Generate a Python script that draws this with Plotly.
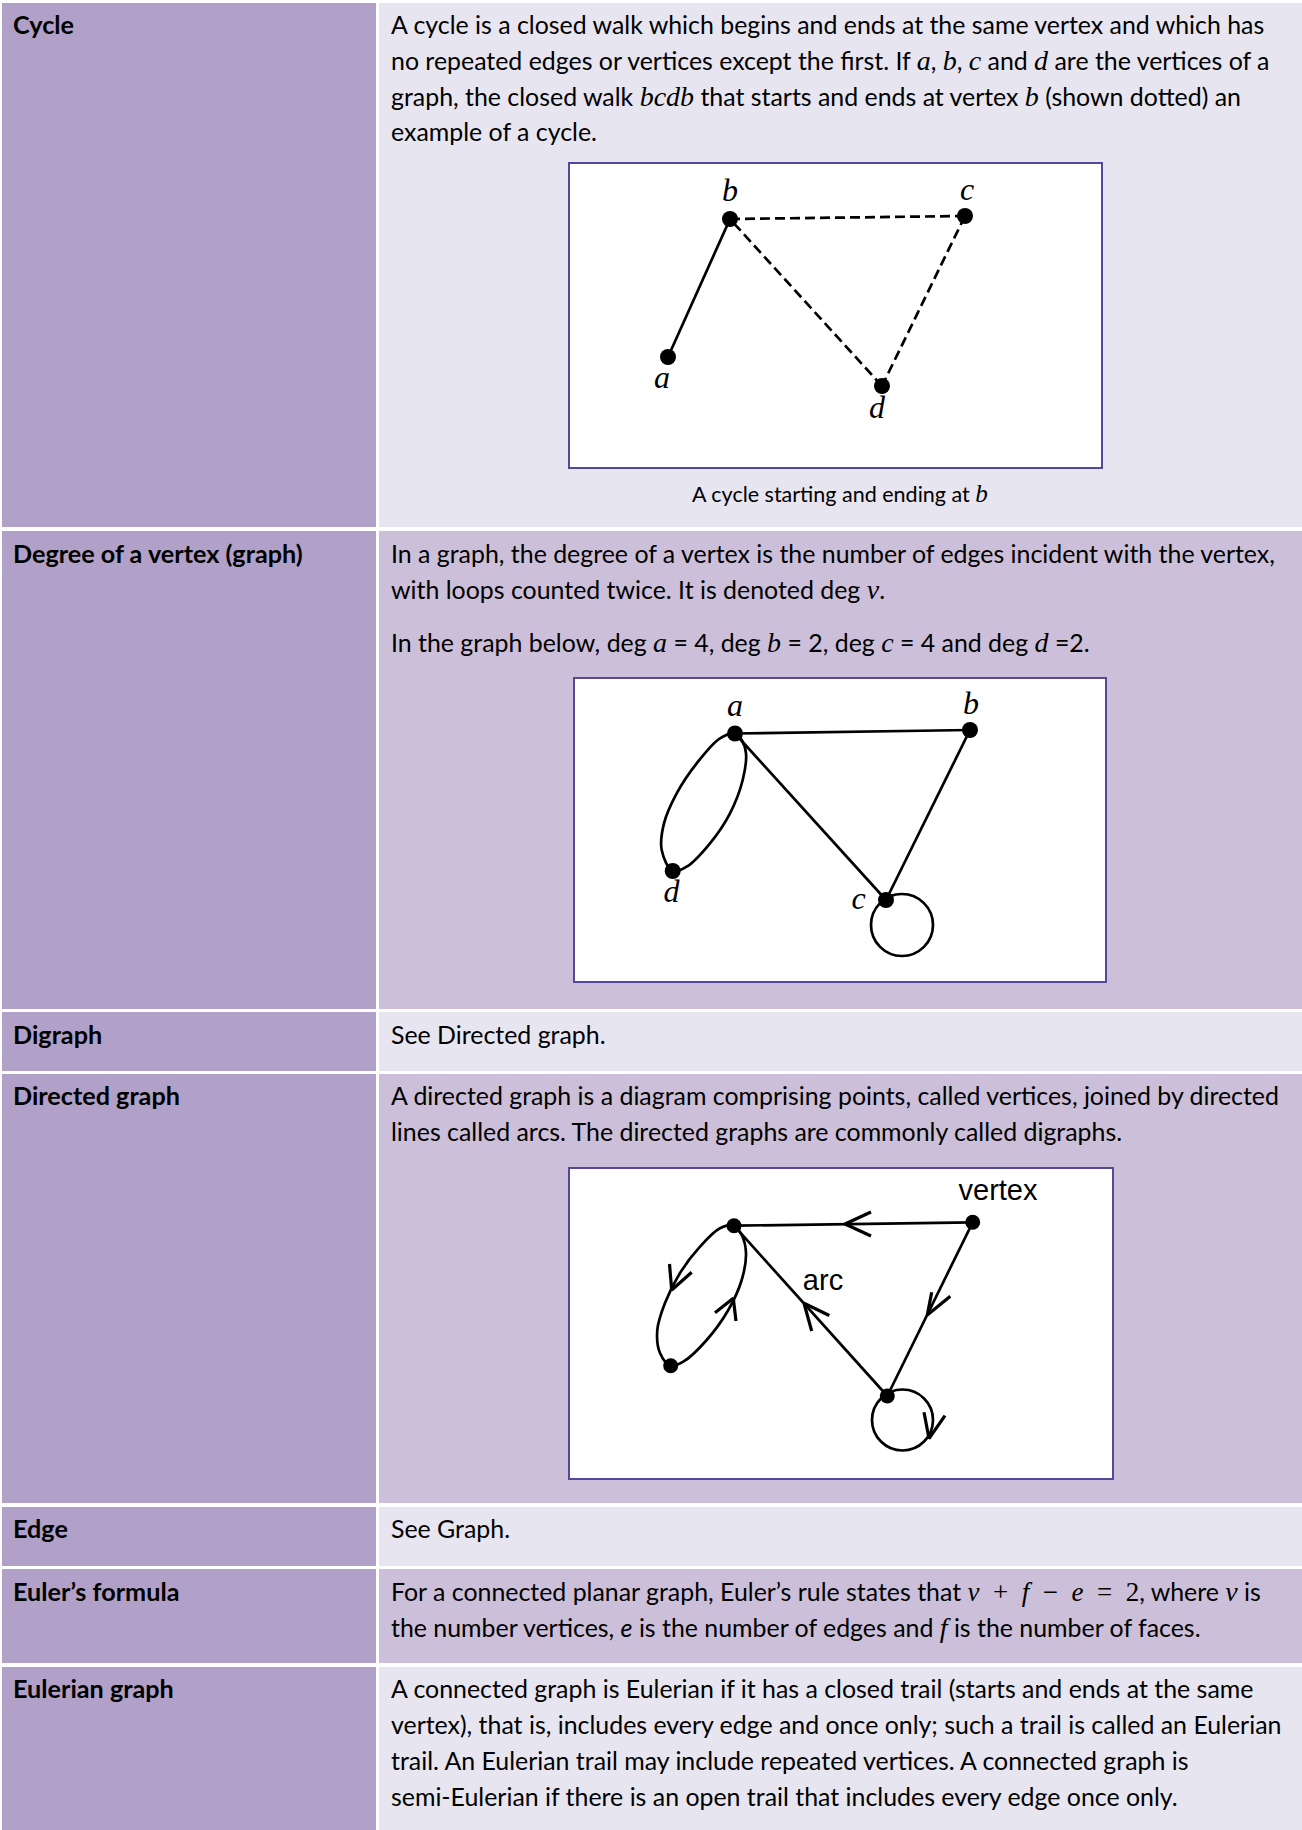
import plotly.graph_objects as go

# ---------------- table content ----------------
terms = ["Cycle", "Degree of a vertex (graph)", "Digraph", "Directed graph",
         "Edge", "Euler’s formula", "Eulerian graph"]


def m(s, size=28):
    # maths italic (stand-in for Cambria Math)
    return f'<span style="font-family:Liberation Serif;font-size:{size}px"><i>{s}</i></span>'


def mexpr(s, size=27):
    return f'<span style="font-family:Liberation Serif;font-size:{size}px">{s}</span>'


euler_expr = mexpr("<i>v</i>\u2002+\u2002<i>f</i>\u2002−\u2002<i>e</i>\u2002=\u20022")

definitions = [
    ["A cycle is a closed walk which begins and ends at the same vertex and which has",
     f"no repeated edges or vertices except the first. If {m('a')}, {m('b')}, {m('c')} and {m('d')} are the vertices of a",
     f"graph, the closed walk {m('bcdb')} that starts and ends at vertex {m('b')} (shown dotted) an",
     "example of a cycle."],
    ["In a graph, the degree of a vertex is the number of edges incident with the vertex,",
     f"with loops counted twice. It is denoted deg {m('v')}.",
     f"In the graph below, deg {m('a')} = 4, deg {m('b')} = 2, deg {m('c')} = 4 and deg {m('d')} =2."],
    ["See Directed graph."],
    ["A directed graph is a diagram comprising points, called vertices, joined by directed",
     "lines called arcs. The directed graphs are commonly called digraphs."],
    ["See Graph."],
    [f"For a connected planar graph, Euler’s rule states that {euler_expr}, where {m('v')} is",
     f"the number vertices, <i>e</i> is the number of edges and {m('f')} is the number of faces."],
    ["A connected graph is Eulerian if it has a closed trail (starts and ends at the same",
     "vertex), that is, includes every edge and once only; such a trail is called an Eulerian",
     "trail. An Eulerian trail may include repeated vertices. A connected graph is",
     "semi-Eulerian if there is an open trail that includes every edge once only."],
]
cycle_caption = f"A cycle starting and ending at {m('b', 25)}"

# ---------------- diagram 1: cycle ----------------
cyc_names = ["a", "b", "c", "d"]
cyc_x = [99, 161, 396, 313]
cyc_y = [194, 56, 53, 223]
cyc_lab_x = [93, 161, 398, 308]
cyc_lab_y = [217, 30, 29, 247]
cyc_solid = [(0, 1)]
cyc_dashed = [(1, 2), (2, 3), (3, 1)]

# ---------------- diagram 2: degree ----------------
deg_names = ["a", "b", "c", "d"]
deg_x = [161, 396, 312, 98.7]
deg_y = [55.5, 52, 222, 193]
deg_lab_x = [161, 397, 284.5, 97.5]
deg_lab_y = [30, 28, 223, 216]
deg_edges = [(0, 1), (0, 2), (1, 2)]
deg_loop = [328, 247, 31]
deg_oval_x = [161, 146, 122.7, 102.7, 90, 87.7, 98.7, 112.7, 136, 156, 168.7, 172, 167.7, 161]
deg_oval_y = [55.5, 60.3, 85.3, 115.3, 145.3, 172, 193, 188.7, 165.3, 135.3, 102, 75.3, 62, 55.5]

# ---------------- diagram 3: directed graph ----------------
dig_x = [165, 403.7, 318.3, 101.7]
dig_y = [57.7, 54.3, 228, 197.7]
dig_edges = [(1, 0), (1, 2), (2, 0)]
dig_loop = [333.5, 252, 30.5]
dig_oval_x = [165, 151, 131, 111, 96, 88.3, 91, 101.7, 114.3, 137.7, 159.3, 172.7, 177, 172.7, 165]
dig_oval_y = [57.7, 60.3, 78.7, 105, 135, 162, 185, 197.7, 193.7, 172, 142, 112, 85, 67, 57.7]
chev_x = [[302, 276, 302], [362.7, 358.3, 381.3], [260.3, 235, 242.7],
          [100.5, 102.7, 122.7], [146, 164.3, 167], [355, 360, 376]]
chev_y = [[44, 56, 68], [124.3, 147, 128.3], [147.5, 135.3, 163],
          [96, 122, 104.3], [144.7, 130.3, 153], [244.3, 270.5, 247.7]]
dig_words = ["vertex", "arc"]
dig_word_x = [429, 254]
dig_word_y = [25, 115]

# ---------------- layout constants ----------------
W, H = 1302, 1830
row_top = [3, 531, 1012, 1074, 1507, 1569, 1667]
row_bot = [527, 1009, 1071, 1503, 1566, 1663, 1830]
line_y = [[24, 60, 96, 131], [553, 589, 642], [1034], [1095, 1131],
          [1528], [1591, 1627], [1688, 1724, 1760, 1796]]
boxes = [(569, 163, 1102, 468), (574, 678, 1106, 982), (569, 1168, 1113, 1479)]

LEFT = "#B1A0C7"
DARK = "#CCBFD9"
LIGHT = "#E7E5F0"
BORDER = "#54479C"
FONT = "Lato"
FS = 24.9

fig = go.Figure()
shapes = []
annotations = []

for r in range(len(terms)):
    shapes.append(dict(type="rect", xref="x", yref="y", x0=2, x1=376,
                       y0=row_top[r], y1=row_bot[r], fillcolor=LEFT,
                       line=dict(width=0), layer="below"))
    shapes.append(dict(type="rect", xref="x", yref="y", x0=379, x1=W,
                       y0=row_top[r], y1=row_bot[r],
                       fillcolor=DARK if r % 2 else LIGHT,
                       line=dict(width=0), layer="below"))
    annotations.append(dict(xref="x", yref="y", x=11, y=line_y[r][0],
                            text=f"<b>{terms[r]}</b>", showarrow=False,
                            xanchor="left", yanchor="middle",
                            font=dict(family=FONT, size=FS + 0.3, color="black")))
    for txt, yy in zip(definitions[r], line_y[r]):
        annotations.append(dict(xref="x", yref="y", x=389, y=yy, text=txt,
                                showarrow=False, xanchor="left", yanchor="middle",
                                font=dict(family=FONT, size=FS, color="black")))

annotations.append(dict(xref="x", yref="y", x=840, y=493, text=cycle_caption,
                        showarrow=False, xanchor="center", yanchor="middle",
                        font=dict(family=FONT, size=21.5, color="black")))

for (x0, y0, x1, y1) in boxes:
    shapes.append(dict(type="rect", xref="x", yref="y", x0=x0, x1=x1, y0=y0, y1=y1,
                       fillcolor="white", line=dict(color=BORDER, width=2),
                       layer="below"))

# main (page) axes
fig.add_trace(go.Scatter(x=[0], y=[0], mode="markers", marker=dict(opacity=0),
                         hoverinfo="skip", showlegend=False))

layout = dict(
    width=W, height=H, margin=dict(l=0, r=0, t=0, b=0),
    paper_bgcolor="white", plot_bgcolor="rgba(0,0,0,0)", showlegend=False,
    xaxis=dict(range=[0, W], domain=[0, 1], visible=False, fixedrange=True),
    yaxis=dict(range=[H, 0], domain=[0, 1], visible=False, fixedrange=True),
)
for i, (x0, y0, x1, y1) in enumerate(boxes):
    k = i + 2
    layout[f"xaxis{k}"] = dict(domain=[x0 / W, x1 / W], range=[0, x1 - x0],
                               visible=False, anchor=f"y{k}", fixedrange=True)
    layout[f"yaxis{k}"] = dict(domain=[1 - y1 / H, 1 - y0 / H], range=[y1 - y0, 0],
                               visible=False, anchor=f"x{k}", fixedrange=True)

LW = 2.7
serif = dict(family="Liberation Serif", size=32, color="black")


def seg(xs, ys, pairs, k, dash="solid"):
    for p, q in pairs:
        fig.add_trace(go.Scatter(x=[xs[p], xs[q]], y=[ys[p], ys[q]], mode="lines",
                                 line=dict(color="black", width=LW, dash=dash),
                                 xaxis=f"x{k}", yaxis=f"y{k}", hoverinfo="skip",
                                 showlegend=False))


def nodes(xs, ys, k, size=16):
    fig.add_trace(go.Scatter(x=xs, y=ys, mode="markers",
                             marker=dict(color="black", size=size),
                             xaxis=f"x{k}", yaxis=f"y{k}", hoverinfo="skip",
                             showlegend=False))


def labels(xs, ys, names, k, font):
    fig.add_trace(go.Scatter(x=xs, y=ys, mode="text",
                             text=[f"<i>{n}</i>" for n in names],
                             textfont=font, textposition="middle center",
                             xaxis=f"x{k}", yaxis=f"y{k}", hoverinfo="skip",
                             showlegend=False))


def oval(xs, ys, k):
    fig.add_trace(go.Scatter(x=xs, y=ys, mode="lines",
                             line=dict(color="black", width=LW, shape="spline",
                                       smoothing=1),
                             xaxis=f"x{k}", yaxis=f"y{k}", hoverinfo="skip",
                             showlegend=False))


def loop(c, k):
    shapes.append(dict(type="circle", xref=f"x{k}", yref=f"y{k}",
                       x0=c[0] - c[2], x1=c[0] + c[2], y0=c[1] - c[2], y1=c[1] + c[2],
                       line=dict(color="black", width=LW)))


# diagram 1
seg(cyc_x, cyc_y, cyc_solid, 2)
seg(cyc_x, cyc_y, cyc_dashed, 2, dash="10px,5px")
nodes(cyc_x, cyc_y, 2)
labels(cyc_lab_x, cyc_lab_y, cyc_names, 2, serif)

# diagram 2
seg(deg_x, deg_y, deg_edges, 3)
oval(deg_oval_x, deg_oval_y, 3)
loop(deg_loop, 3)
nodes(deg_x, deg_y, 3)
labels(deg_lab_x, deg_lab_y, deg_names, 3, serif)

# diagram 3
seg(dig_x, dig_y, dig_edges, 4)
oval(dig_oval_x, dig_oval_y, 4)
loop(dig_loop, 4)
for cx, cy in zip(chev_x, chev_y):
    fig.add_trace(go.Scatter(x=cx, y=cy, mode="lines",
                             line=dict(color="black", width=3.2),
                             xaxis="x4", yaxis="y4", hoverinfo="skip",
                             showlegend=False))
nodes(dig_x, dig_y, 4, size=15)
fig.add_trace(go.Scatter(x=dig_word_x, y=dig_word_y, mode="text", text=dig_words,
                         textfont=dict(family="Liberation Sans", size=29, color="black"),
                         xaxis="x4", yaxis="y4", hoverinfo="skip", showlegend=False))

layout["shapes"] = shapes
layout["annotations"] = annotations
fig.update_layout(**layout)

fig.write_html("out.html", config={"displayModeBar": False},
               post_script="document.body.style.margin='0';document.body.style.padding='0';")
